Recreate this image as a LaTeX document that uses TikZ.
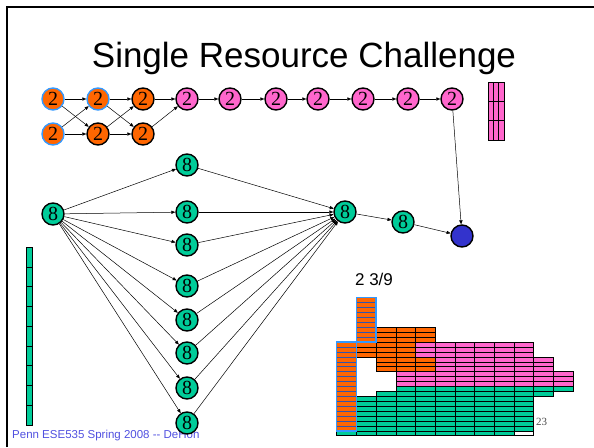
\documentclass[tikz,border=0pt]{standalone}
\usepackage{fontspec}
\setmainfont{Liberation Serif}
\newfontfamily\arialf{Liberation Sans}
\usetikzlibrary{arrows.meta}
\definecolor{orng}{HTML}{FF6600}
\definecolor{pnk}{HTML}{FF66CC}
\definecolor{grn}{HTML}{00CC99}
\definecolor{bnode}{HTML}{3333CC}
\definecolor{lblue}{HTML}{3399FF}
\definecolor{stripe}{HTML}{3355AA}
\definecolor{foot}{HTML}{5050E0}
\newcommand\schedblk[6][black]{\foreach \cc in {#3,...,#4}{\foreach \rr in {#5,...,#6}{\draw[fill=#2,draw=#1,line width=0.5pt] ({336.7+19.7*\cc},{435.7-4.93*\rr}) rectangle ({336.7+19.7*(\cc+1)},{435.7-4.93*(\rr+1)});}}}
\begin{document}
\begin{tikzpicture}[x=1pt,y=-1pt,
 nd/.style={circle,draw=black,line width=1.4pt,minimum size=22pt,inner sep=0pt,font=\fontsize{20}{20}\selectfont},
 ornd/.style={nd,fill=orng},
 bornd/.style={nd,fill=orng,draw=lblue},
 pknd/.style={nd,fill=pnk},
 gnd/.style={nd,fill=grn},
 arr/.style={-{Triangle[length=4pt,width=3.2pt]},line width=0.5pt},
 cellbox/.style={draw=black,line width=0.5pt},
 ]
\useasboundingbox (0,0) rectangle (594,447);
\draw[line width=2pt] (7,447) -- (7,7) -- (594,7);
% title
\node[anchor=base,font=\arialf\fontsize{35}{40}\selectfont] (title) at (304,67) {Single Resource Challenge};
% footer
\node[anchor=west,text=foot,inner sep=0pt,font=\arialf\fontsize{11.5}{13}\selectfont] (footer) at (12,436) {Penn ESE535 Spring 2008 -- DeHon};
% top row nodes
\node[bornd] (a1) at (53,99) {2};
\node[bornd] (b1) at (53,134) {2};
\node[bornd] (a2) at (98,99) {2};
\node[ornd] (b2) at (98,134) {2};
\node[ornd] (a3) at (143,99) {2};
\node[ornd] (b3) at (143,134) {2};
\node[pknd] (p1) at (187,99) {2};
\node[pknd] (p2) at (230,99) {2};
\node[pknd] (p3) at (276,99) {2};
\node[pknd] (p4) at (318,99) {2};
\node[pknd] (p5) at (363,99) {2};
\node[pknd] (p6) at (408,99) {2};
\node[pknd] (p7) at (452,99) {2};
% green nodes
\node[gnd] (g0) at (53,214) {8};
\node[gnd] (m1) at (187,165) {8};
\node[gnd] (m2) at (187,212) {8};
\node[gnd] (m3) at (187,245) {8};
\node[gnd] (m4) at (187,286) {8};
\node[gnd] (m5) at (187,320) {8};
\node[gnd] (m6) at (187,353) {8};
\node[gnd] (m7) at (187,388) {8};
\node[gnd] (m8) at (187,423) {8};
\node[gnd] (mg) at (345,212) {8};
\node[gnd] (g9) at (403,222) {8};
\node[nd,fill=bnode] (sink) at (462,236) {};
% top edges
\draw[arr] (a1) -- (a2);
\draw[arr] (a1) -- (b2);
\draw[arr] (b1) -- (a2);
\draw[arr] (b1) -- (b2);
\draw[arr] (a2) -- (a3);
\draw[arr] (a2) -- (b3);
\draw[arr] (b2) -- (a3);
\draw[arr] (b2) -- (b3);
\draw[arr] (a3) -- (p1);
\draw[arr] (b3) -- (p1);
\draw[arr] (p1) -- (p2);
\draw[arr] (p2) -- (p3);
\draw[arr] (p3) -- (p4);
\draw[arr] (p4) -- (p5);
\draw[arr] (p5) -- (p6);
\draw[arr] (p6) -- (p7);
\draw[arr] (p7) -- (sink);
% green edges
\foreach \m in {m1,m2,m3,m4,m5,m6,m7,m8}{
  \draw[arr] (g0) -- (\m);
  \draw[arr] (\m) -- (mg);
}
\draw[arr] (mg) -- (g9);
\draw[arr] (g9) -- (sink);
% pink stack
\foreach \i in {0,1,2}{\foreach \j in {0,1,2}{
  \draw[cellbox,fill=pnk] ({488+5.33*\i},{82+19.33*\j}) rectangle ({488+5.33*(\i+1)},{82+19.33*(\j+1)});}}
% green stack
\foreach \j in {0,...,8}{
  \draw[cellbox,fill=grn] (26,{247+19.78*\j}) rectangle (32,{247+19.78*(\j+1)});}
% schedule chart
\node[anchor=base,font=\arialf\fontsize{17}{20}\selectfont] (lbl) at (374,285) {2 3/9};
\schedblk{grn}{0}{8}{0}{0}
\schedblk{white}{9}{9}{0}{0}
\schedblk{grn}{1}{9}{1}{7}
\schedblk{grn}{2}{10}{8}{8}
\schedblk{grn}{3}{11}{9}{9}
\schedblk{pnk}{3}{11}{10}{12}
\schedblk{pnk}{5}{10}{13}{15}
\schedblk{pnk}{4}{9}{16}{18}
\schedblk{orng}{2}{4}{13}{15}
\schedblk{orng}{1}{3}{16}{18}
\schedblk{orng}{2}{4}{19}{21}
\schedblk[stripe]{orng}{0}{0}{1}{18}
\schedblk[stripe]{orng}{1}{1}{19}{27}
\draw[lblue,line width=1.5pt] (336.7,{435.7-4.93}) rectangle (356.4,{435.7-4.93*19});
\draw[lblue,line width=1.5pt] (356.4,{435.7-4.93*19}) rectangle (376.1,{435.7-4.93*28});
\node[anchor=west,inner sep=0pt,text=black!70,font=\fontsize{11}{12}\selectfont] (pg) at (536,422) {23};
\end{tikzpicture}
\end{document}
